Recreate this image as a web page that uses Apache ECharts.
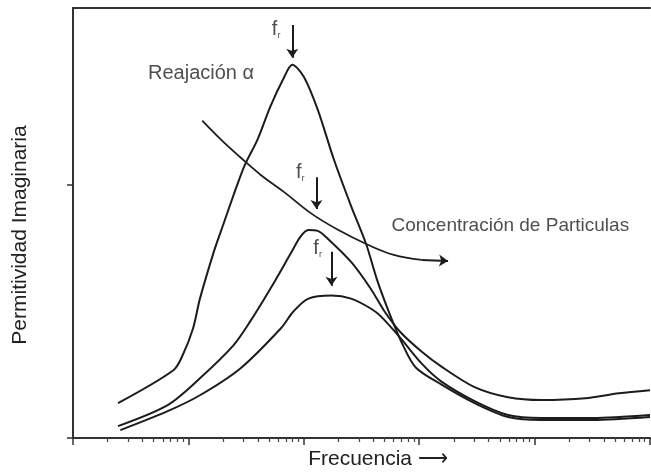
<!DOCTYPE html>
<html>
<head>
<meta charset="utf-8">
<script src="https://cdn.jsdelivr.net/npm/echarts@6/dist/echarts.min.js"></script>
<style>
  html, body { margin: 0; padding: 0; background: #fff; }
  #permitividad { width: 651px; height: 475px; }
</style>
</head>
<body>
<div id="permitividad"></div>
<script>
// Permitividad imaginaria vs frecuencia (eje x en decadas: log10 de la frecuencia)

// curva mayor (relajacion alfa)
var logFreq1 = [0.39, 0.87, 0.95, 1.04, 1.10, 1.22, 1.28, 1.48, 1.60, 1.71, 1.82, 1.90, 2.00, 2.12, 2.26, 2.41, 2.54, 2.64, 2.76, 2.86, 2.97, 3.19, 3.48, 3.77, 4.06, 4.50, 5.00];
var perm1    = [13.8, 26.8, 32.7, 43.3, 55.1, 73.6, 81.5, 107.0, 118.1, 131.0, 141.7, 147.6, 142.8, 129.9, 110.2, 91.7, 76.7, 61.8, 47.2, 36.6, 27.9, 21.2, 13.8, 8.3, 7.1, 7.1, 8.3];
// curva intermedia
var logFreq2 = [0.39, 0.82, 1.10, 1.39, 1.54, 1.71, 1.89, 1.97, 2.04, 2.12, 2.21, 2.41, 2.58, 2.70, 2.84, 3.02, 3.19, 3.48, 3.77, 4.06, 4.44, 4.73, 5.00];
var perm2    = [4.7, 13.0, 23.6, 36.6, 46.4, 59.0, 73.2, 79.5, 82.2, 81.9, 78.7, 69.6, 59.0, 50.0, 41.7, 34.2, 28.3, 20.1, 16.1, 15.0, 15.7, 17.7, 18.9];
// curva menor
var logFreq3 = [0.41, 0.82, 1.10, 1.45, 1.80, 1.91, 2.04, 2.24, 2.41, 2.58, 2.67, 2.84, 3.02, 3.19, 3.48, 3.77, 4.06, 4.50, 5.00];
var perm3    = [3.1, 10.6, 16.9, 27.5, 43.3, 50.0, 55.1, 56.3, 55.1, 51.2, 48.0, 39.4, 29.5, 22.4, 14.6, 9.1, 7.9, 7.9, 9.1];

// flecha "Concentracion de Particulas"
var concX = [1.12, 1.28, 1.45, 1.63, 1.83, 2.06, 2.30, 2.56, 2.78, 3.02];
var concY = [125.5, 118.1, 111.0, 103.9, 97.2, 88.9, 82.2, 76.3, 72.4, 70.4];
var concHead = [[3.02, 70.4], [3.25, 70.0]];

// flechas de f_r (x, y inicio, y fin)
var frX     = [1.90, 2.11, 2.24];
var frTop   = [163.3, 103.1, 73.6];
var frBot   = [150.3, 90.5, 60.2];
var frLabel = [[1.76, 161.6], [1.97, 105.1], [2.12, 74.8]];

// textos sueltos
var notes = [
    { value: [0.65, 144.0], text: 'Reajación α', size: 20 },
    { value: [2.76, 83.8], text: 'Concentración de Particulas', size: 19 }
];

// ticks
var majorTicks = [0, 1, 2, 3, 4, 5];
var minorTicks = [];
for (var d = 0; d < 5; d++) {
    for (var k = 2; k <= 9; k++) minorTicks.push(d + Math.log10(k));
}
var yTicks = [0, 100];

function pairs(xs, ys) {
    return xs.map(function (x, i) { return [x, ys[i]]; });
}

var ink = '#1c1c1c';
var font = 'Liberation Sans, Arial, sans-serif';

var curveStyle = { color: ink, width: 2 };

var arrows = frX.map(function (x, i) {
    return { coords: [[x, frTop[i]], [x, frBot[i]]] };
});
arrows.push({ coords: concHead });

var option = {
    animation: false,
    grid: { left: 73, right: 1, top: 8, bottom: 35 },
    xAxis: [
        {
            type: 'value', min: 0, max: 5,
            name: 'Frecuencia ⟶',
            nameLocation: 'middle',
            nameGap: 11,
            nameTextStyle: { fontFamily: font, fontSize: 21, color: '#222', padding: [0, 0, 0, 33] },
            axisLine: { lineStyle: { color: '#333', width: 2 } },
            axisTick: { show: true, inside: false, length: 7, customValues: majorTicks, lineStyle: { color: '#333', width: 1.5 } },
            axisLabel: { show: false },
            splitLine: { show: false }
        },
        {
            type: 'value', min: 0, max: 5, position: 'bottom',
            axisLine: { show: false },
            axisTick: { show: true, inside: false, length: 4, customValues: minorTicks, lineStyle: { color: '#444', width: 1.2 } },
            axisLabel: { show: false },
            splitLine: { show: false }
        },
        {
            type: 'value', min: 0, max: 5, position: 'top',
            axisLine: { lineStyle: { color: '#333', width: 2 } },
            axisTick: { show: false },
            axisLabel: { show: false },
            splitLine: { show: false }
        }
    ],
    yAxis: {
        type: 'value', min: 0, max: 170,
        name: 'Permitividad Imaginaria',
        nameLocation: 'middle',
        nameGap: 42,
        nameTextStyle: { fontFamily: font, fontSize: 21, color: '#222', padding: [0, 24, 0, 0] },
        axisLine: { lineStyle: { color: '#333', width: 2 } },
        axisTick: { show: true, inside: false, length: 6, customValues: yTicks, lineStyle: { color: '#333', width: 1.5 } },
        axisLabel: { show: false },
        splitLine: { show: false }
    },
    series: [
        { type: 'line', data: pairs(logFreq1, perm1), smooth: 0.3, symbol: 'none', lineStyle: curveStyle, silent: true },
        { type: 'line', data: pairs(logFreq2, perm2), smooth: 0.3, symbol: 'none', lineStyle: curveStyle, silent: true },
        { type: 'line', data: pairs(logFreq3, perm3), smooth: 0.3, symbol: 'none', lineStyle: curveStyle, silent: true },
        { type: 'line', data: pairs(concX, concY), smooth: 0.4, symbol: 'none', lineStyle: { color: ink, width: 1.8 }, silent: true },
        {
            type: 'lines', coordinateSystem: 'cartesian2d',
            symbol: ['none', 'arrow'], symbolSize: 9,
            lineStyle: { color: ink, width: 2, opacity: 1 },
            data: arrows, silent: true
        },
        {
            type: 'scatter', symbolSize: 0, silent: true,
            label: {
                show: true, position: 'inside',
                formatter: '{f|f}{r|r}',
                rich: {
                    f: { fontFamily: font, fontSize: 20, color: '#222', lineHeight: 20 },
                    r: { fontFamily: font, fontSize: 9, color: '#222', verticalAlign: 'bottom', padding: [12, 0, 0, 0] }
                }
            },
            data: frLabel
        },
        {
            type: 'scatter', symbolSize: 0, silent: true,
            label: {
                show: true, position: 'right', distance: 0,
                fontFamily: font, color: '#222'
            },
            data: notes.map(function (n) {
                return { value: n.value, label: { fontSize: n.size, formatter: n.text } };
            })
        }
    ]
};

var myChart = echarts.init(document.getElementById('permitividad'));
myChart.setOption(option);
</script>
</body>
</html>
